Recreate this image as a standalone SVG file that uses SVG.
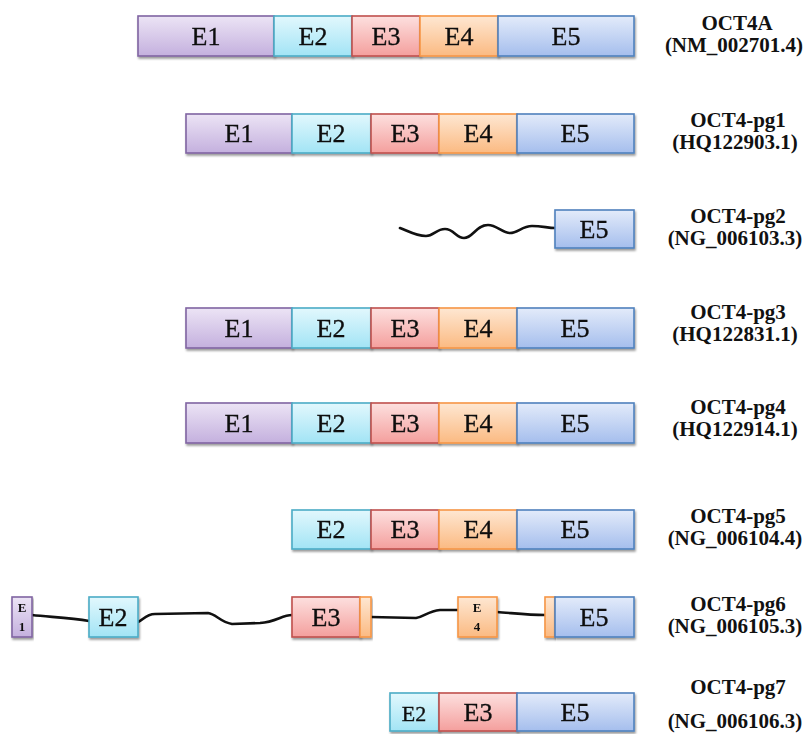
<svg xmlns="http://www.w3.org/2000/svg" width="804" height="734" viewBox="0 0 804 734">
  <defs>
    <linearGradient id="gE1" x1="0" y1="0" x2="0" y2="1">
      <stop offset="0" stop-color="#ece4f5"/>
      <stop offset="1" stop-color="#c4b0de"/>
    </linearGradient>
    <linearGradient id="gE2" x1="0" y1="0" x2="0" y2="1">
      <stop offset="0" stop-color="#e2f8fd"/>
      <stop offset="1" stop-color="#a2e4f5"/>
    </linearGradient>
    <linearGradient id="gE3" x1="0" y1="0" x2="0" y2="1">
      <stop offset="0" stop-color="#fde0df"/>
      <stop offset="1" stop-color="#f49f9d"/>
    </linearGradient>
    <linearGradient id="gE4" x1="0" y1="0" x2="0" y2="1">
      <stop offset="0" stop-color="#fee7d2"/>
      <stop offset="1" stop-color="#fbba82"/>
    </linearGradient>
    <linearGradient id="gE5" x1="0" y1="0" x2="0" y2="1">
      <stop offset="0" stop-color="#e3ebfa"/>
      <stop offset="1" stop-color="#a5beed"/>
    </linearGradient>
    <filter id="shadow" x="-10%" y="-20%" width="120%" height="160%">
      <feDropShadow dx="1" dy="2" stdDeviation="1.3" flood-color="#000" flood-opacity="0.4"/>
    </filter>
  </defs>
  <style>
    .exon { filter: url(#shadow); }
    .exon rect { stroke-width: 1.6; }
    .e1 rect { fill: url(#gE1); stroke: #8064a2; }
    .e2 rect { fill: url(#gE2); stroke: #4bacc6; }
    .e3 rect { fill: url(#gE3); stroke: #c0504d; }
    .e4 rect { fill: url(#gE4); stroke: #f79646; }
    .e5 rect { fill: url(#gE5); stroke: #4f81bd; }
    .ex { font-family: "Liberation Serif", "Times New Roman", serif; font-size: 26px; fill: #111; stroke: #111; stroke-width: 0.35; text-anchor: middle; }
    .exs { font-family: "Liberation Serif", "Times New Roman", serif; font-size: 13px; font-weight: bold; fill: #111; text-anchor: middle; }
    .lbl { font-family: "Liberation Serif", "Times New Roman", serif; font-size: 21px; font-weight: bold; fill: #111; text-anchor: middle; }
    .intron { fill: none; stroke: #111; stroke-width: 2.6; stroke-linecap: round; stroke-linejoin: round; }
  </style>

  <!-- connectors: introns / pseudogene tails -->
  <g id="connectors">
    <path class="intron" d="M400,228 C408,231 416,236 426,236 C434,236 436,229 445,229 C454,229 456,238 464,238 C473,238 476,225 488,225 C497,225 502,233 510,233 C518,233 522,226 532,226 C542,226 548,228 555,228"/>
    <path class="intron" d="M32,615 C50,617 70,618 89,621"/>
    <path class="intron" d="M138,622 C143,620 146,614 155,614 L208,613 C216,614 220,622 232,624 L260,623 C276,622 282,615 292,615"/>
    <path class="intron" d="M371,617 L416,618 C424,617 428,611 440,610 L458,610"/>
    <path class="intron" d="M497,612 C512,613 528,615 545,615"/>
  </g>

  <!-- OCT4A -->
  <g id="oct4a">
    <g id="oct4a-e1" class="exon e1"><rect x="138" y="16" width="136" height="40"/><text class="ex" x="206" y="45">E1</text></g>
    <g id="oct4a-e2" class="exon e2"><rect x="274" y="16" width="78" height="40"/><text class="ex" x="313" y="45">E2</text></g>
    <g id="oct4a-e3" class="exon e3"><rect x="352" y="16" width="68" height="40"/><text class="ex" x="386" y="45">E3</text></g>
    <g id="oct4a-e4" class="exon e4"><rect x="420" y="16" width="78" height="40"/><text class="ex" x="459" y="45">E4</text></g>
    <g id="oct4a-e5" class="exon e5"><rect x="498" y="16" width="136" height="40"/><text class="ex" x="566" y="45">E5</text></g>
    <text class="lbl" x="737" y="30">OCT4A</text>
    <text class="lbl" x="734" y="52">(NM_002701.4)</text>
  </g>

  <!-- OCT4-pg1 -->
  <g id="pg1">
    <g id="pg1-e1" class="exon e1"><rect x="186" y="114" width="106" height="39"/><text class="ex" x="239" y="142">E1</text></g>
    <g id="pg1-e2" class="exon e2"><rect x="292" y="114" width="79" height="39"/><text class="ex" x="331" y="142">E2</text></g>
    <g id="pg1-e3" class="exon e3"><rect x="371" y="114" width="68" height="39"/><text class="ex" x="405" y="142">E3</text></g>
    <g id="pg1-e4" class="exon e4"><rect x="439" y="114" width="78" height="39"/><text class="ex" x="478" y="142">E4</text></g>
    <g id="pg1-e5" class="exon e5"><rect x="517" y="114" width="117" height="39"/><text class="ex" x="575" y="142">E5</text></g>
    <text class="lbl" x="738" y="127">OCT4-pg1</text>
    <text class="lbl" x="735" y="149">(HQ122903.1)</text>
  </g>

  <!-- OCT4-pg2 -->
  <g id="pg2">
    <g id="pg2-e5" class="exon e5"><rect x="555" y="210" width="79" height="38"/><text class="ex" x="594" y="238">E5</text></g>
    <text class="lbl" x="738" y="223">OCT4-pg2</text>
    <text class="lbl" x="735" y="245">(NG_006103.3)</text>
  </g>

  <!-- OCT4-pg3 -->
  <g id="pg3">
    <g id="pg3-e1" class="exon e1"><rect x="186" y="308" width="106" height="40"/><text class="ex" x="239" y="337">E1</text></g>
    <g id="pg3-e2" class="exon e2"><rect x="292" y="308" width="79" height="40"/><text class="ex" x="331" y="337">E2</text></g>
    <g id="pg3-e3" class="exon e3"><rect x="371" y="308" width="68" height="40"/><text class="ex" x="405" y="337">E3</text></g>
    <g id="pg3-e4" class="exon e4"><rect x="439" y="308" width="78" height="40"/><text class="ex" x="478" y="337">E4</text></g>
    <g id="pg3-e5" class="exon e5"><rect x="517" y="308" width="117" height="40"/><text class="ex" x="575" y="337">E5</text></g>
    <text class="lbl" x="738" y="319">OCT4-pg3</text>
    <text class="lbl" x="735" y="341">(HQ122831.1)</text>
  </g>

  <!-- OCT4-pg4 -->
  <g id="pg4">
    <g id="pg4-e1" class="exon e1"><rect x="186" y="403" width="106" height="40"/><text class="ex" x="239" y="432">E1</text></g>
    <g id="pg4-e2" class="exon e2"><rect x="292" y="403" width="79" height="40"/><text class="ex" x="331" y="432">E2</text></g>
    <g id="pg4-e3" class="exon e3"><rect x="371" y="403" width="68" height="40"/><text class="ex" x="405" y="432">E3</text></g>
    <g id="pg4-e4" class="exon e4"><rect x="439" y="403" width="78" height="40"/><text class="ex" x="478" y="432">E4</text></g>
    <g id="pg4-e5" class="exon e5"><rect x="517" y="403" width="117" height="40"/><text class="ex" x="575" y="432">E5</text></g>
    <text class="lbl" x="738" y="414">OCT4-pg4</text>
    <text class="lbl" x="735" y="436">(HQ122914.1)</text>
  </g>

  <!-- OCT4-pg5 -->
  <g id="pg5">
    <g id="pg5-e2" class="exon e2"><rect x="292" y="510" width="79" height="39"/><text class="ex" x="331" y="538">E2</text></g>
    <g id="pg5-e3" class="exon e3"><rect x="371" y="510" width="68" height="39"/><text class="ex" x="405" y="538">E3</text></g>
    <g id="pg5-e4" class="exon e4"><rect x="439" y="510" width="78" height="39"/><text class="ex" x="478" y="538">E4</text></g>
    <g id="pg5-e5" class="exon e5"><rect x="517" y="510" width="117" height="39"/><text class="ex" x="575" y="538">E5</text></g>
    <text class="lbl" x="738" y="523">OCT4-pg5</text>
    <text class="lbl" x="735" y="545">(NG_006104.4)</text>
  </g>

  <!-- OCT4-pg6 -->
  <g id="pg6">
    <g id="pg6-e1" class="exon e1"><rect x="12" y="597" width="20" height="40"/><text class="exs" x="22" y="612">E</text><text class="exs" x="22" y="631">1</text></g>
    <g id="pg6-e2" class="exon e2"><rect x="89" y="597" width="49" height="40"/><text class="ex" x="113" y="626">E2</text></g>
    <g id="pg6-e3" class="exon e3"><rect x="292" y="597" width="68" height="40"/><text class="ex" x="326" y="626">E3</text></g>
    <g id="pg6-e4a" class="exon e4"><rect x="360" y="597" width="11" height="40"/></g>
    <g id="pg6-e4" class="exon e4"><rect x="458" y="597" width="39" height="40"/><text class="exs" x="477" y="612">E</text><text class="exs" x="477" y="631">4</text></g>
    <g id="pg6-e4b" class="exon e4"><rect x="545" y="597" width="10" height="40"/></g>
    <g id="pg6-e5" class="exon e5"><rect x="555" y="597" width="79" height="40"/><text class="ex" x="594" y="626">E5</text></g>
    <text class="lbl" x="738" y="611">OCT4-pg6</text>
    <text class="lbl" x="735" y="633">(NG_006105.3)</text>
  </g>

  <!-- OCT4-pg7 -->
  <g id="pg7">
    <g id="pg7-e2" class="exon e2"><rect x="390" y="693" width="49" height="38"/><text class="ex" x="414" y="721" style="font-size:22px">E2</text></g>
    <g id="pg7-e3" class="exon e3"><rect x="439" y="693" width="78" height="38"/><text class="ex" x="478" y="721">E3</text></g>
    <g id="pg7-e5" class="exon e5"><rect x="517" y="693" width="117" height="38"/><text class="ex" x="575" y="721">E5</text></g>
    <text class="lbl" x="738" y="694">OCT4-pg7</text>
    <text class="lbl" x="735" y="728">(NG_006106.3)</text>
  </g>
</svg>
